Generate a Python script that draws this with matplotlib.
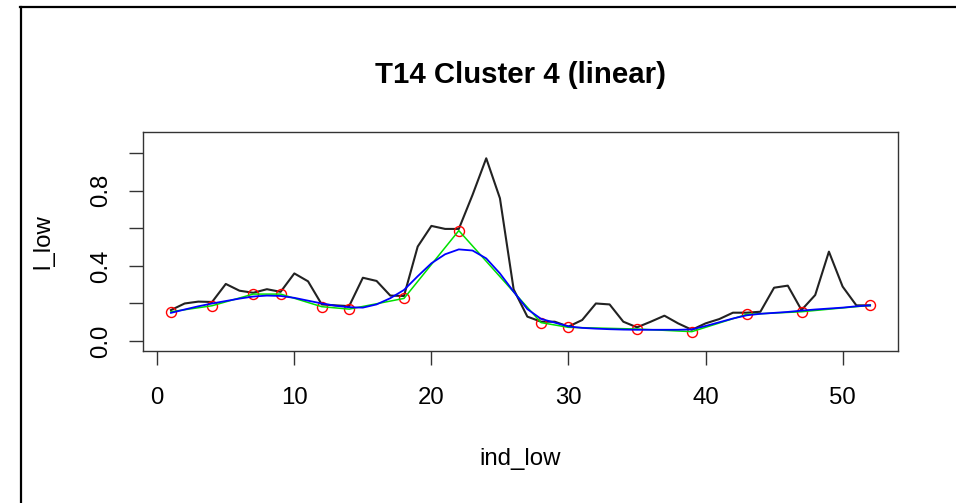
import numpy as np
import matplotlib
matplotlib.use('Agg')
import matplotlib.pyplot as plt
from matplotlib.lines import Line2D

plt.rcParams['font.family'] = ['Liberation Sans', 'DejaVu Sans']

# observed series (black), one value per index
ind_low = np.arange(1, 53)
l_low = [0.165, 0.200, 0.210, 0.208, 0.304, 0.268, 0.257, 0.276, 0.262, 0.360,
         0.318, 0.195, 0.190, 0.186, 0.337, 0.320, 0.242, 0.240, 0.503, 0.613,
         0.597, 0.597, 0.778, 0.973, 0.760, 0.275, 0.130, 0.103, 0.103, 0.077,
         0.112, 0.200, 0.195, 0.103, 0.073, 0.103, 0.135, 0.094, 0.060, 0.094,
         0.117, 0.151, 0.151, 0.156, 0.284, 0.295, 0.165, 0.245, 0.476, 0.290,
         0.190, 0.190]

# selected points (red circles), joined linearly (green)
sel_ind = [1, 4, 7, 9, 12, 14, 18, 22, 28, 30, 35, 39, 43, 47, 52]
sel_val = [0.156, 0.188, 0.250, 0.250, 0.183, 0.170, 0.227, 0.588, 0.098,
           0.073, 0.064, 0.050, 0.142, 0.156, 0.190]

# smooth fit (blue)
smooth = [0.150, 0.168, 0.185, 0.200, 0.213, 0.226, 0.237, 0.242, 0.240, 0.230,
          0.215, 0.200, 0.188, 0.180, 0.178, 0.195, 0.228, 0.272, 0.345, 0.414,
          0.462, 0.488, 0.482, 0.440, 0.360, 0.263, 0.170, 0.118, 0.098, 0.078,
          0.070, 0.066, 0.063, 0.061, 0.060, 0.060, 0.060, 0.060, 0.062, 0.080,
          0.100, 0.120, 0.137, 0.145, 0.150, 0.155, 0.162, 0.168, 0.173, 0.178,
          0.185, 0.190]

xticks = [0, 10, 20, 30, 40, 50]
yticks = [0.0, 0.2, 0.4, 0.6, 0.8, 1.0]
ytick_labels = ['0.0', '', '0.4', '', '0.8', '']

W, H = 956, 503
fig = plt.figure(figsize=(W / 100, H / 100), dpi=100)
ax = fig.add_axes([143 / W, 1 - 351 / H, (898 - 143) / W, (351 - 132) / H])

ax.plot(ind_low, l_low, color='#222222', lw=1.5)
ax.plot(sel_ind, sel_val, 'o', mfc='none', mec='red', ms=7.2, mew=1.0)
ax.plot(sel_ind, sel_val, color='#00e000', lw=1.1)
ax.plot(ind_low, smooth, color='blue', lw=1.3)

ax.set_xlim(-1.04, 54.04)
ax.set_ylim(-0.053, 1.113)
ax.set_xticks(xticks)
ax.set_yticks(yticks)
ax.set_yticklabels(ytick_labels, rotation=90, va='center')
ax.tick_params(direction='out', length=10, width=1.0, color='#333333',
               labelsize=17.3, pad=16)
ax.tick_params(axis='y', pad=12)
for sp in ax.spines.values():
    sp.set_color('#333333')
    sp.set_linewidth(1.0)

ax.set_xlabel('ind_low', fontsize=17.3, labelpad=28)
ax.set_ylabel('l_low', fontsize=17.3, labelpad=26)
ax.set_title('T14 Cluster 4 (linear)', fontsize=21.2, fontweight='bold', pad=35)

# screenshot frame, top and left edges only
fig.add_artist(Line2D([20 / W, 1], [1 - 6.5 / H, 1 - 6.5 / H],
                      transform=fig.transFigure, color='black', lw=1.6))
fig.add_artist(Line2D([21 / W, 21 / W], [0, 1 - 6.5 / H],
                      transform=fig.transFigure, color='black', lw=1.6))

fig.savefig('out.png', dpi=100)
